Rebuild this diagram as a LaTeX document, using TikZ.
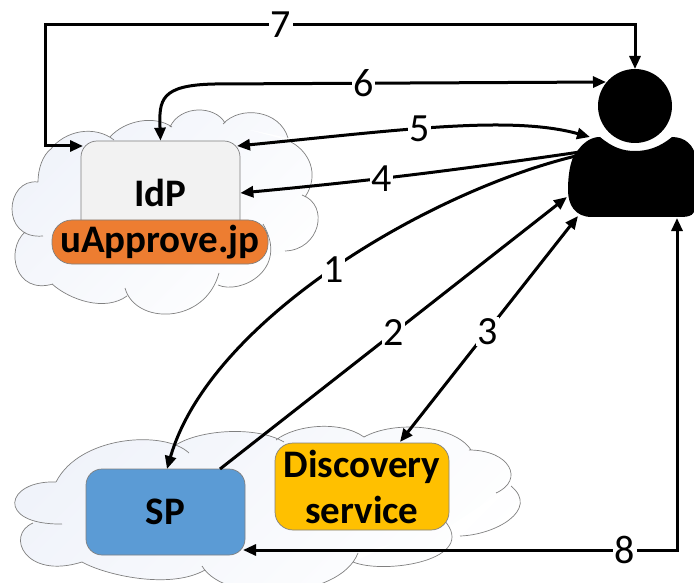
\documentclass[tikz,border=0pt]{standalone}
\usepackage{fontspec}
\setmainfont{Carlito}
\usepackage{xcolor}
\usetikzlibrary{arrows.meta,positioning}
\definecolor{cloudblue}{HTML}{F0F3FA}
\definecolor{idpgray}{HTML}{F2F2F2}
\definecolor{uapporange}{HTML}{ED7D31}
\definecolor{spblue}{HTML}{5B9BD5}
\definecolor{dsgold}{HTML}{FFC000}

% bumps of the two clouds
\def\idpbumps{(38,182) .. controls (5,178) and (0,240) .. (43,236)
  (25,232) .. controls (5,250) and (15,295) .. (53,284)
  (52,284) .. controls (70,300) and (105,312) .. (127,296)
  (125,288) .. controls (135,325) and (205,325) .. (219,273)
  (218,285) .. controls (240,295) and (290,270) .. (263,224)
  (285,251) .. controls (320,250) and (330,205) .. (302,195)
  (305,197) .. controls (320,175) and (310,150) .. (287,140)
  (288,138) .. controls (280,110) and (240,105) .. (223,124)
  (225,123) .. controls (215,105) and (180,105) .. (170,127)
  (172,127) .. controls (155,115) and (125,120) .. (110,137)
  (114,140) .. controls (95,125) and (65,130) .. (50,150)
  (52,148) .. controls (42,155) and (38,170) .. (38,182)}
\def\spbumps{(56,482) .. controls (5,480) and (-5,525) .. (62,524)
  (33,523) .. controls (5,535) and (25,580) .. (82,562)
  (82,562) .. controls (105,575) and (170,590) .. (205,570)
  (202,566) .. controls (225,605) and (340,600) .. (358,553)
  (353,562) .. controls (385,575) and (480,560) .. (444,520)
  (460,536) .. controls (495,535) and (540,510) .. (511,486)
  (496,493) .. controls (525,480) and (510,450) .. (469,450)
  (471,450) .. controls (455,425) and (395,420) .. (364,437)
  (364,437) .. controls (340,420) and (295,425) .. (276,440)
  (284,442) .. controls (255,425) and (195,430) .. (173,447)
  (189,453) .. controls (165,430) and (80,435) .. (56,482)}

\begin{document}
\begin{tikzpicture}[x=1pt,y=-1pt,
    >={Stealth[inset=0pt,length=13pt,width=11pt]},
    cloudfill/.style={%
      top color=cloudblue, bottom color=white, shading angle=45
    },
    cloudline/.style={draw=black!50, line width=0.7pt},
    box/.style={%
      rectangle, draw=black!50, line width=0.7pt, rounded corners=16pt,
      font=\fontsize{39}{46}\selectfont\bfseries, align=center, inner sep=0pt
    },
    conn/.style={line width=3pt, line join=miter},
    num/.style={%
      fill=white, inner sep=1.5pt, font=\fontsize{40}{40}\selectfont
    }
]
    \useasboundingbox (0,0) rectangle (694,583);

    % clouds
    \shade[cloudfill] \idpbumps
      (38,182) -- (25,232) -- (53,284) -- (127,296) -- (219,280) -- (285,251)
      -- (305,197) -- (287,140) -- (223,123) -- (170,127) -- (110,137)
      -- (50,150) -- cycle;
    \draw[cloudline] \idpbumps;
    \shade[cloudfill] \spbumps
      (56,482) -- (33,523) -- (82,562) -- (205,570) -- (358,553) -- (444,530)
      -- (511,486) -- (469,450) -- (364,437) -- (276,440) -- (173,447) -- cycle;
    \draw[cloudline] \spbumps;

    \node[box, fill=idpgray, minimum width=159pt, minimum height=104pt] (idp) at (160.5,193) {IdP};
    \node[box, fill=uapporange, minimum width=216pt, minimum height=44pt, rounded corners=20pt] (uapp) at (160,242) {uApprove.jp};
    \node[box, fill=spblue, minimum width=159pt, minimum height=86pt] (sp) at (165.5,512) {SP};
    \node[box, fill=dsgold, minimum width=174pt, minimum height=87pt, rounded corners=18pt] (ds) at (362,486.5) {Discovery\\service};

    \node[circle, fill=black, minimum size=74pt, inner sep=0pt] (head) at (635,106) {};
    \fill[black] (600,137) .. controls (612,147) and (622,151) .. (635,151)
      .. controls (648,151) and (660,147) .. (672,137)
      .. controls (685,137) and (694,145) .. (696,158) -- (696,205)
      .. controls (696,215) and (690,217) .. (680,217) -- (592,217)
      .. controls (575,217) and (568,205) .. (568,190)
      .. controls (568,170) and (572,155) .. (578,150)
      .. controls (585,141) and (592,137) .. (600,137) -- cycle;

    % ends of the connectors
    \coordinate (top7) at (635,69);
    \coordinate (corner7a) at (635,25);
    \coordinate (corner7b) at (45,25);
    \coordinate (corner7c) at (45,146);
    \coordinate (idp7) at (83,146);
    \coordinate (usr6) at (606,82);
    \coordinate (usr5) at (590,137);
    \coordinate (idp5) at (237,146);
    \coordinate (usr4) at (580,152);
    \coordinate (usr1) at (580,155);
    \coordinate (sp1) at (167,469);
    \coordinate (sp2) at (220,469);
    \coordinate (usr2) at (567,197);
    \coordinate (ds3) at (400,442);
    \coordinate (usr3) at (578,216);
    \coordinate (sp8) at (243,550);
    \coordinate (corner8) at (677,550);
    \coordinate (usr8) at (677,218);

    \draw[conn,<->] (idp7) -- (corner7c) -- (corner7b) -- node[num, pos=0.40] {7} (corner7a) -- (top7);
    \draw[conn,<->] (idp.north) .. controls (159,100) and (160,85) .. (215,84) -- node[num, pos=0.38] {6} (usr6);
    \draw[conn,<->] (idp5) .. controls (400,130) and (510,115) .. node[num, pos=0.43] {5} (usr5);
    \draw[conn,->] (usr4) .. controls (490,165) and (400,178) .. node[num, pos=0.66] {4} (idp.east);
    \draw[conn,->] (usr1) .. controls (430,190) and (210,320) .. node[num, pos=0.5] {1} (sp1);
    \draw[conn,->] (sp2) -- node[num, pos=0.5] {2} (usr2);
    \draw[conn,<->] (ds3) -- node[num, pos=0.49] {3} (usr3);
    \draw[conn,<->] (sp8) -- node[num, pos=0.88] {8} (corner8) -- (usr8);
\end{tikzpicture}
\end{document}
